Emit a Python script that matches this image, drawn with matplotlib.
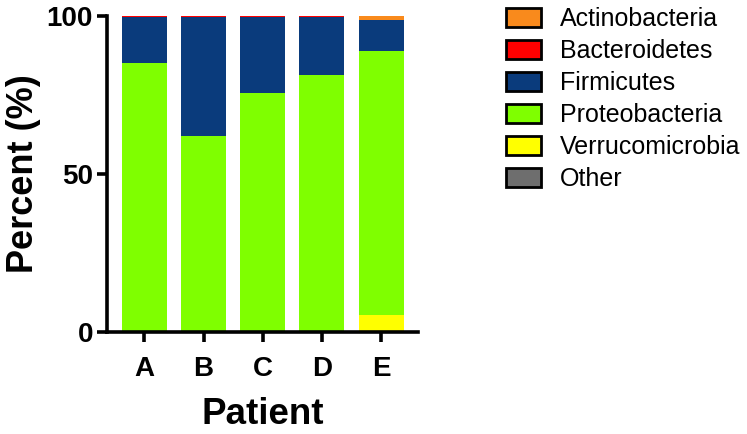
import matplotlib
matplotlib.use("Agg")
import matplotlib.pyplot as plt
import numpy as np
from matplotlib.patches import Patch

plt.rcParams['font.family'] = ['Liberation Sans', 'DejaVu Sans']

patients = ["A", "B", "C", "D", "E"]
verrucomicrobia = [0.0, 0.0, 0.0, 0.0, 5.4]
proteobacteria = [85.2, 62.0, 75.6, 81.3, 83.5]
firmicutes = [14.4, 37.8, 24.2, 18.5, 9.8]
bacteroidetes = [0.3, 0.1, 0.1, 0.1, 0.1]
actinobacteria = [0.1, 0.1, 0.1, 0.1, 1.1]
other = [0.0, 0.0, 0.0, 0.0, 0.1]

series = [
    ("Verrucomicrobia", verrucomicrobia, "#FFFF00"),
    ("Proteobacteria", proteobacteria, "#7FFF00"),
    ("Firmicutes", firmicutes, "#0A3B7C"),
    ("Bacteroidetes", bacteroidetes, "#FF0000"),
    ("Actinobacteria", actinobacteria, "#F98A1C"),
    ("Other", other, "#6E6E6E"),
]

fig = plt.figure(figsize=(7.47, 4.34), dpi=100)
ax = fig.add_axes([0.143, 0.235, 0.417, 0.728])

x = np.arange(len(patients))
bottom = np.zeros(len(patients))
for name, vals, col in series:
    vals = np.array(vals)
    ax.bar(x, vals, width=0.76, bottom=bottom, color=col, edgecolor="none", linewidth=0)
    bottom += vals

ax.set_xlim(-0.635, 4.63)
ax.set_ylim(0, 100)
ax.set_yticks([0, 50, 100])
ax.set_xticks(x)
ax.set_xticklabels(patients)
for s in ["top", "right"]:
    ax.spines[s].set_visible(False)
for s in ["left", "bottom"]:
    ax.spines[s].set_linewidth(2.6)
    ax.spines[s].set_capstyle("projecting")
ax.tick_params(axis="both", direction="out", width=2.6, length=7, labelsize=20)
ax.tick_params(axis="y", pad=3)
ax.tick_params(axis="x", pad=10)
for lbl in ax.get_xticklabels() + ax.get_yticklabels():
    lbl.set_fontweight("bold")
ax.set_ylabel("Percent (%)", fontsize=26, fontweight="bold", labelpad=4)
ax.set_xlabel("Patient", fontsize=26.5, fontweight="bold", labelpad=11)

legend_order = ["Actinobacteria", "Bacteroidetes", "Firmicutes", "Proteobacteria", "Verrucomicrobia", "Other"]
colmap = {n: c for n, _, c in series}
handles = [Patch(facecolor=colmap[n], edgecolor="black", linewidth=2) for n in legend_order]
fig.legend(handles, legend_order, loc="upper left", bbox_to_anchor=(0.674, 0.99),
           frameon=False, fontsize=18, handlelength=1.4, handleheight=0.8,
           labelspacing=0.32, handletextpad=0.75, borderaxespad=0.0, borderpad=0.1)

fig.savefig("out.png", dpi=100)
